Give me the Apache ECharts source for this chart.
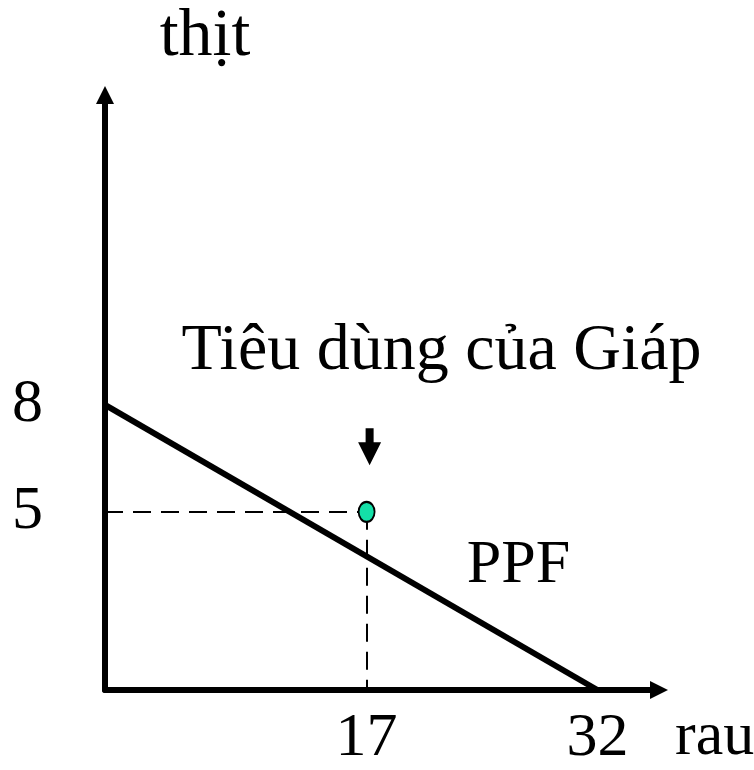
<!DOCTYPE html>
<html>
<head>
<meta charset="utf-8">
<script src="https://cdn.jsdelivr.net/npm/echarts@6/dist/echarts.min.js"></script>
<style>html,body{margin:0;padding:0;background:#fff;}#c{width:754px;height:770px;}</style>
</head>
<body>
<div id="c"></div>
<script>
// Data
var xTickLabels = [17, 32];
var yTickLabels = [5, 8];
var xAxisName = 'rau';
var yAxisName = 'thịt';
var ppfPoints = [[0, 8], [32, 0]];
var ppfName = 'PPF';
var consumption = [[17, 5]];
var consumptionName = 'Tiêu dùng của Giáp';

var FONT = '"Liberation Serif", "Times New Roman", serif';
var chart = echarts.init(document.getElementById('c'), null, {renderer: 'canvas'});

var pt = consumption[0];
chart.setOption({
  animation: false,
  backgroundColor: '#fff',
  grid: {left: 105, right: 95, top: 95, bottom: 80, containLabel: false, outerBoundsMode: 'none'},
  xAxis: {
    type: 'value', min: 0, max: 36, interval: 1,
    name: xAxisName, nameLocation: 'end', nameGap: 16,
    nameTextStyle: {fontFamily: FONT, fontSize: 62, color: '#000', verticalAlign: 'top', lineHeight: 96},
    axisLine: {show: true, onZero: false, symbol: ['none', 'triangle'], symbolSize: [18, 18],
      lineStyle: {color: '#000', width: 6}},
    axisTick: {show: false},
    splitLine: {show: false},
    axisLabel: {
      fontFamily: FONT, fontSize: 62, color: '#000', margin: 18,
      showMinLabel: true, showMaxLabel: false,
      formatter: function (v) { return xTickLabels.indexOf(v) >= 0 ? String(v) : ''; }
    }
  },
  yAxis: {
    type: 'value', min: 0, max: 16.7, interval: 1,
    name: yAxisName, nameLocation: 'end', nameGap: 24,
    nameTextStyle: {fontFamily: FONT, fontSize: 68, color: '#000', align: 'center', padding: [0, 0, 0, 200]},
    axisLine: {show: true, onZero: false, symbol: ['none', 'triangle'], symbolSize: [18, 18],
      lineStyle: {color: '#000', width: 6}},
    axisTick: {show: false},
    splitLine: {show: false},
    axisLabel: {
      fontFamily: FONT, fontSize: 62, color: '#000', margin: 62,
      showMaxLabel: false,
      formatter: function (v) { return yTickLabels.indexOf(v) >= 0 ? String(v) : ''; }
    }
  },
  series: [
    {
      type: 'line',
      data: ppfPoints.map(function (p, i) {
        return i === ppfPoints.length - 1 ? {value: p, label: {show: true, formatter: ppfName,
          position: 'inside', offset: [-79, -124], fontFamily: FONT, fontSize: 62, color: '#000'}} : p;
      }),
      symbol: 'circle',
      symbolSize: 0.1,
      showSymbol: true,
      itemStyle: {color: 'rgba(0,0,0,0)'},
      lineStyle: {color: '#000', width: 6},
      z: 3
    },
    {
      type: 'scatter',
      data: consumption,
      symbol: 'circle',
      symbolSize: [16, 20],
      itemStyle: {color: '#14e0a8', borderColor: '#000', borderWidth: 2, opacity: 1},
      label: {
        show: true, position: 'inside', formatter: consumptionName,
        offset: [75, -160], fontFamily: FONT, fontSize: 66, color: '#000'
      },
      markLine: {
        silent: true, symbol: 'none',
        label: {show: false},
        lineStyle: {color: '#000', width: 2, type: [18, 10]},
        data: [
          [{coord: [0, pt[1]]}, {coord: [pt[0], pt[1]]}],
          [{coord: [pt[0], pt[1]]}, {coord: [pt[0], 0]}]
        ]
      },
      markPoint: {
        silent: true,
        symbol: 'path://M7.5,0 L15.5,0 L15.5,14 L23,14 L11.5,37 L0,14 L7.5,14 Z',
        symbolSize: [23, 37],
        symbolOffset: [3, -65],
        itemStyle: {color: '#000'},
        label: {show: false},
        data: [{coord: pt}]
      },
      z: 5
    }
  ]
});
</script>
</body>
</html>
